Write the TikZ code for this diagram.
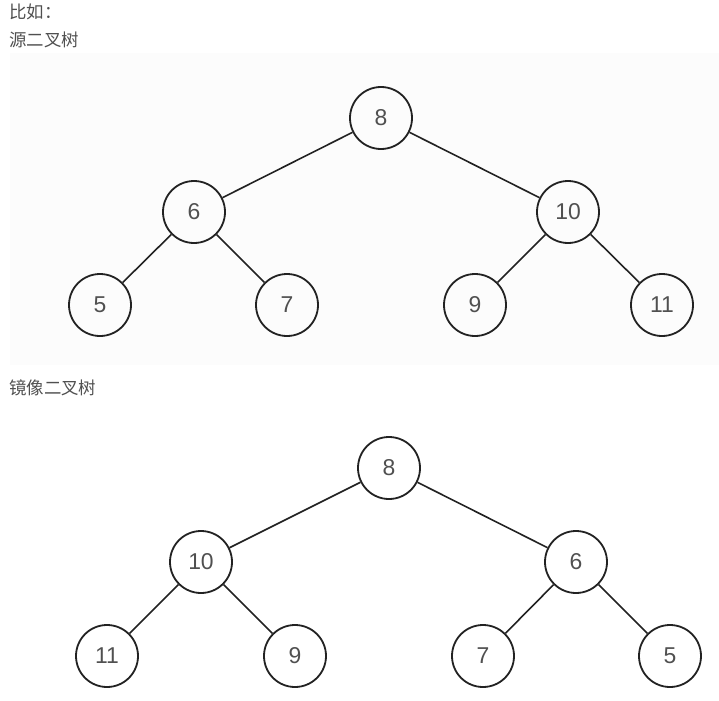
\documentclass[tikz,border=0pt]{standalone}
\usepackage{fontspec}
\setsansfont{Liberation Sans}
\newfontfamily\cjk{Noto Sans CJK SC}
\definecolor{txtgray}{HTML}{505050}
\definecolor{lngray}{HTML}{222222}
\definecolor{paper}{HTML}{FCFCFC}
\begin{document}
\begin{tikzpicture}[x=1bp, y=-1bp,
  nd/.style={circle, draw=lngray, line width=1.8bp, minimum size=62bp, inner sep=0pt,
    font=\fontsize{23}{27}\sffamily, text=txtgray},
  edge/.style={draw=lngray, line width=1.6bp},
  caption/.style={font=\cjk\fontsize{17.5}{20}\selectfont, text=txtgray, anchor=west, inner sep=0pt}]
  \useasboundingbox (0,0) rectangle (719,701);
  \fill[paper] (10,53) rectangle (719,365);
  % captions
  \node[caption] (cap1) at (9,12) {比如：};
  \node[caption] (cap2) at (9,40) {源二叉树};
  \node[caption] (cap3) at (9,388) {镜像二叉树};
  % source tree
  \foreach \n/\x/\y/\t in {s8/381/118/8, s6/194/212/6, s10/568/212/10,
      s5/100/305/5, s7/287/305/7, s9/475/305/9, s11/662/305/11}
    \node[nd] (\n) at (\x,\y) {\t};
  \foreach \p/\c in {s8/s6, s8/s10, s6/s5, s6/s7, s10/s9, s10/s11}
    \draw[edge] (\p) -- (\c);
  % mirror tree
  \foreach \n/\x/\y/\t in {m8/389/468/8, m10/201/562/10, m6/576/562/6,
      m11/107/656/11, m9/295/656/9, m7/483/656/7, m5/670/656/5}
    \node[nd] (\n) at (\x,\y) {\t};
  \foreach \p/\c in {m8/m10, m8/m6, m10/m11, m10/m9, m6/m7, m6/m5}
    \draw[edge] (\p) -- (\c);
\end{tikzpicture}
\end{document}
